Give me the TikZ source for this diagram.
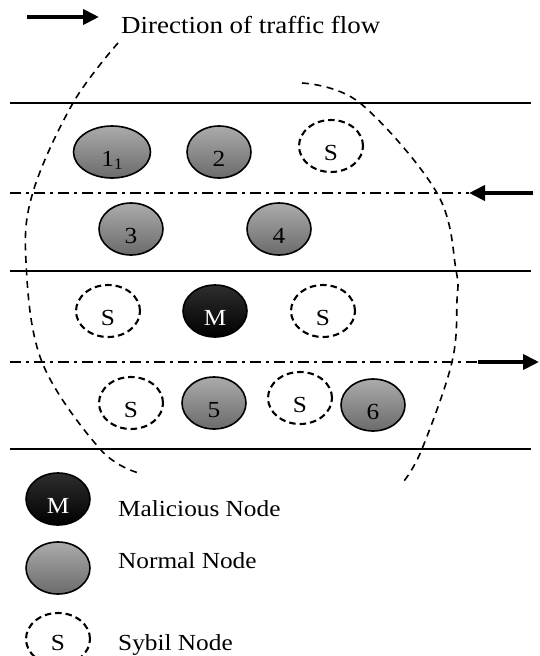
\documentclass[tikz,border=0pt]{standalone}
\usepackage{fontspec}
\setmainfont{Liberation Serif}[FakeStretch=1.1]
\usetikzlibrary{shapes.geometric,arrows.meta}

\begin{document}
\begin{tikzpicture}[x=1pt, y=-1pt,
        car/.style={draw, ellipse, line width=1.6pt, minimum width=64pt, minimum height=52pt, inner sep=0pt,
            text height=28pt, text depth=0pt, font=\fontsize{23}{23}\selectfont},
        normnode/.style={car, top color=black!33, bottom color=black!58},
        malnode/.style={car, top color=black!82, bottom color=black, text=white},
        sybnode/.style={car, line width=2.1pt, dash pattern=on 6.5pt off 4pt},
        lane/.style={line width=1.7pt},
        midlane/.style={line width=1.6pt, dash pattern=on 11pt off 5pt on 3pt off 5pt},
        rangearc/.style={line width=1.6pt, dash pattern=on 7pt off 5.5pt},
        flow/.style={line width=3.8pt, -{Triangle[length=16pt, width=15pt]}},
        legtext/.style={anchor=base west, inner sep=0pt, font=\fontsize{23}{23}\selectfont}]
        \useasboundingbox (0,0) rectangle (539,656);
        \clip (0,0) rectangle (539,656);

        % direction of traffic
        \coordinate (dirtail) at (27,17);
        \coordinate (dirtip) at (99,17);
        \draw[flow] (dirtail) -- (dirtip);
        \node[anchor=base west, inner sep=0pt, font=\fontsize{24.5}{24.5}\selectfont] (dirtext) at (121,33) {Direction of traffic flow};

        % lanes
        \coordinate (lefttip) at (469,193);
        \coordinate (righttail) at (478,362);
        \draw[lane] (10,103) -- (531,103);
        \draw[midlane] (10,193) -- (lefttip);
        \draw[lane] (10,271) -- (531,271);
        \draw[midlane] (10,362) -- (righttail);
        \draw[lane] (10,449) -- (531,449);
        \draw[flow] (533,193) -- (lefttip);
        \draw[flow] (righttail) -- (539,362);

        % vehicles
        \node[normnode, minimum width=77pt] (n1) at (112,152) {1\raisebox{-3pt}{\fontsize{16}{16}\selectfont 1}};
        \node[normnode] (n2) at (219,152) {2};
        \node[sybnode] (s1) at (331,146) {S};
        \node[normnode] (n3) at (131,229) {3};
        \node[normnode] (n4) at (279,229) {4};
        \node[sybnode] (s2) at (108,311) {S};
        \node[malnode] (m) at (215,311) {M};
        \node[sybnode] (s3) at (323,311) {S};
        \node[sybnode] (s4) at (131,403) {S};
        \node[normnode] (n5) at (214,403) {5};
        \node[sybnode] (s5) at (300,398) {S};
        \node[normnode] (n6) at (373,405) {6};

        % communication range
        \draw[rangearc] plot[smooth, tension=0.6] coordinates {(118,43) (73,103) (33,192) (26,262) (42,362) (100,449) (139,473)};
        \draw[rangearc] plot[smooth, tension=0.6] coordinates {(302,83) (360,103) (437,193) (456,270) (457,300) (452,362) (422,449) (404,481)};

        % legend
        \node[malnode] (lm) at (58,499) {M};
        \node[normnode] (ln) at (58,568) {};
        \node[sybnode, text height=22pt] (ls) at (58,639) {S};
        \node[legtext] (lmtext) at (118,516) {Malicious Node};
        \node[legtext] (lntext) at (118,568) {Normal Node};
        \node[legtext] (lstext) at (118,650) {Sybil Node};
    \end{tikzpicture}
\end{document}
